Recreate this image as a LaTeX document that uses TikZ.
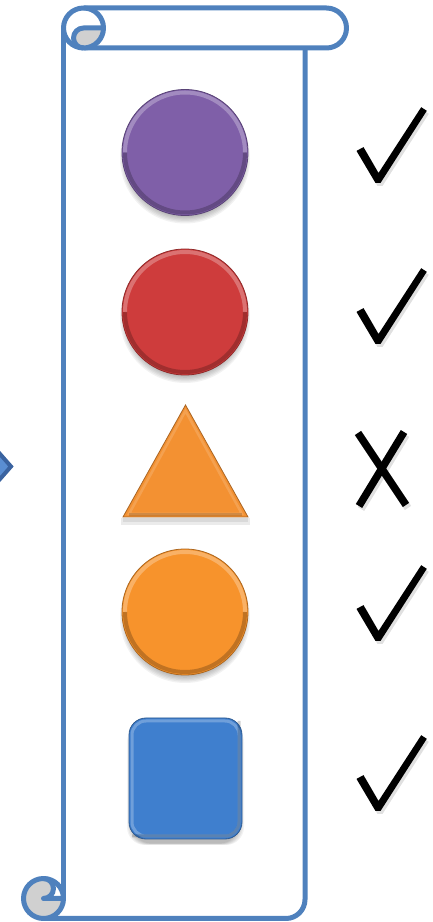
\documentclass[tikz,border=0pt]{standalone}
\usepackage{tikz}
\definecolor{scrollblue}{HTML}{4F81BD}
\definecolor{curlgray}{HTML}{D0D0D0}
\definecolor{cpurple}{HTML}{7F5FA8}
\definecolor{cred}{HTML}{CE3C3C}
\definecolor{corange}{HTML}{F7932C}
\definecolor{ctri}{HTML}{F39132}
\definecolor{cblue}{HTML}{3F7FCE}
\definecolor{arrowdark}{HTML}{3A63A0}
\definecolor{arrowlight}{HTML}{5A8ED2}
\tikzset{
  scrollline/.style={draw=scrollblue, line width=5pt, line join=round},
  curlfill/.style={fill=curlgray},
  markstroke/.style={fill=black},
  markshadow/.style={fill=black, opacity=0.12},
  softshadow/.style={fill=black, opacity=0.05},
  bevellight/.style={draw=white, opacity=0.28, line width=4pt},
  beveldark/.style={draw=black, opacity=0.22, line width=4pt},
}
\newcommand{\bevelcircle}[4]{% cx, cy, r, color
  \foreach \k in {0,1,2,3,4,5} {
    \fill[softshadow] (#1,#2+6) circle ({#3+2-\k*1.3});
  }
  \fill[#4] (#1,#2) circle (#3);
  \draw[bevellight] (#1,#2) ++(180:#3-3) arc (180:360:#3-3);
  \draw[beveldark] (#1,#2) ++(0:#3-3) arc (0:180:#3-3);
  \draw[#4!70!black, line width=0.8pt] (#1,#2) circle (#3);
}
\newcommand{\checkshape}{(356.5,150.9) -- (363.5,147.1) -- (378.5,173) -- (421.2,107.2) -- (426.8,110.8) -- (380.5,183) -- (375.5,183) -- cycle}
\newcommand{\checkmk}[1]{% y offset
  \begin{scope}[yshift=#1]
    \fill[markshadow, xshift=2, yshift=3] \checkshape;
    \fill[markstroke] \checkshape;
  \end{scope}
}
\begin{document}
\begin{tikzpicture}[x=1pt,y=1pt]
\begin{scope}[shift={(0,922)},yscale=-1]
  \useasboundingbox (0,0) rectangle (433,922);
  \clip (0,0) rectangle (433,922);

  % left arrow tip
  \filldraw[fill=arrowlight, draw=arrowdark, line width=4pt, line join=miter]
    (-14,438) -- (11,466.5) -- (-14,495) -- cycle;

  % scroll body
  \draw[scrollline] (63.5,28) -- (63.5,898.5);
  \draw[scrollline, rounded corners=19pt] (305,48) -- (305,918.5) -- (43.5,918.5);

  % top roll
  \draw[scrollline] (83.5,8) -- (326.5,8) arc (-90:90:20) -- (83.5,48);
  \path[curlfill] (83.5,28) -- (103.5,28) arc (0:90:20) arc (90:270:10) -- cycle;
  \draw[scrollline] (83.5,28) circle (20);
  \draw[scrollline] (103.5,28) -- (83.5,28) arc (270:90:10);

  % bottom roll
  \fill[curlgray] (43.5,898.5) circle (20);
  \fill[white] (63.5,898.5) arc (0:-90:20) arc (-90:90:10) -- cycle;
  \draw[scrollline] (43.5,898.5) circle (20);
  \draw[scrollline] (63.5,898.5) -- (43.5,898.5) arc (90:-90:10);

  % shapes
  \bevelcircle{185}{152.5}{63}{cpurple}
  \bevelcircle{185}{312}{63}{cred}
  \bevelcircle{185}{612}{63}{corange}

  % triangle
  \fill[black,opacity=0.08] (121,518) rectangle (250,525);
  \fill[black,opacity=0.08] (123,518) rectangle (248,522);
  \fill[ctri] (185.5,405) -- (248,517) -- (123,517) -- cycle;
  \draw[white, opacity=0.15, line width=2.5pt, line join=miter] (185.5,411) -- (242,514) -- (129,514) -- cycle;
  \draw[black, opacity=0.15, line width=3pt] (129,514.5) -- (242,514.5);
  \draw[ctri!70!black, line width=0.8pt, line join=miter] (185.5,405) -- (248,517) -- (123,517) -- cycle;

  % rounded square
  \foreach \k in {0,1,2,3,4,5} {
    \fill[softshadow, rounded corners=18pt] (129-2+\k*1.2,718+6+\k*1.2) rectangle (242+2-\k*1.2,840+5-\k*0.3);
  }
  \fill[cblue, rounded corners=17pt] (129,718) rectangle (242,839);
  \draw[white, opacity=0.25, line width=3pt, rounded corners=14pt] (132,721) rectangle (239,836);
  \draw[black, opacity=0.18, line width=3pt, rounded corners=14pt] (132,836) -- (239,836) -- (239,721);
  \draw[cblue!70!black, line width=0.8pt, rounded corners=17pt] (129,718) rectangle (242,839);

  % check marks and cross
  \checkmk{0}
  \checkmk{161}
  \checkmk{458}
  \checkmk{628}

  \draw[black, opacity=0.12, line width=7.5pt] (360,436) -- (408,508);
  \draw[black, opacity=0.12, line width=7.5pt] (406,435) -- (361,509);
  \draw[black, line width=7.5pt] (358,433) -- (406,505);
  \draw[black, line width=7.5pt] (404,432) -- (359,506);
\end{scope}
\end{tikzpicture}
\end{document}
